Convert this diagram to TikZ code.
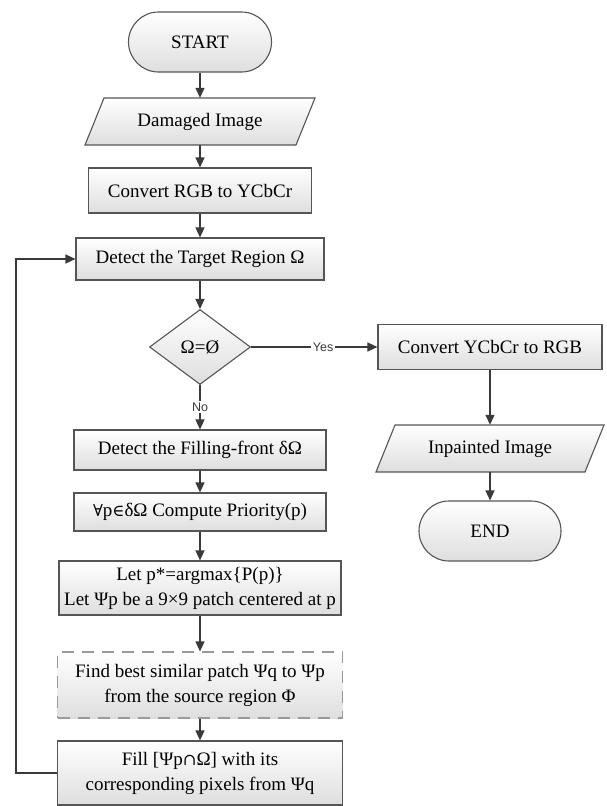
\documentclass[tikz,border=0pt]{standalone}
\usepackage{fontspec}
\setmainfont{Liberation Serif}
\setsansfont{Liberation Sans}
\newfontfamily\symfont{DejaVu Serif}[Scale=0.86]
\usetikzlibrary{arrows.meta,shapes.geometric}
\definecolor{lc}{HTML}{3A3A3A}
\definecolor{bd}{HTML}{555555}
\definecolor{boxg}{HTML}{DEDEDE}
\newcommand\mainfs{\fontsize{19}{25}\selectfont}
\begin{document}
\begin{tikzpicture}[x=1pt,y=-1pt,
  base/.style={draw=bd, line width=1.1pt, top color=white, bottom color=boxg, inner sep=0pt, align=center, font=\mainfs},
  box/.style={base, rectangle},
  dbox/.style={base, rectangle, dash pattern=on 12pt off 8pt, draw=gray!80},
  term/.style={base, rectangle, rounded corners=30pt, minimum width=143pt, minimum height=60pt},
  iotext/.style={inner sep=0pt, font=\mainfs, rectangle},
  ioshape/.style={draw=bd, line width=1.1pt, top color=white, bottom color=boxg},
  dia/.style={base, diamond, minimum width=101pt, minimum height=75pt},
  arr/.style={draw=lc, line width=1.1pt, -{Triangle[width=9pt,length=10pt]}},
  lbl/.style={fill=white, inner sep=1.5pt, font=\sffamily\fontsize{12.5}{13}\selectfont, text=lc}
]
\useasboundingbox (0,0) rectangle (607,806);

% left column
\node[term] (start) at (200,42) {START};

\shade[ioshape] (85,145) -- (296,145) -- (315,98) -- (104,98) -- cycle;
\node[iotext, minimum width=211pt, minimum height=47pt] (dmg) at (200,121.5) {Damaged Image};

\node[box, minimum width=223pt, minimum height=45pt] (rgb) at (200,190.5) {Convert RGB to YCbCr};
\node[box, minimum width=248pt, minimum height=42pt] (tgt) at (200,259) {Detect the Target Region Ω};
\node[dia] (dec) at (200,347) {Ω=Ø};
\node[box, minimum width=252pt, minimum height=40pt] (front) at (200,450) {Detect the Filling-front δΩ};
\node[box, minimum width=252pt, minimum height=38pt] (prio) at (200,512) {{\symfont ∀}p{\symfont ∈}δΩ Compute Priority(p)};
\node[box, minimum width=282pt, minimum height=54pt] (let) at (200,588) {Let p*=argmax\{P(p)\}\\Let Ψp be a 9×9 patch centered at p};
\node[dbox, minimum width=285pt, minimum height=66pt] (find) at (200,685) {Find best similar patch Ψq to Ψp\\from the source region Φ};
\node[box, minimum width=285pt, minimum height=64pt] (fill) at (200,773) {Fill [Ψp{\symfont ∩}Ω] with its\\corresponding pixels from Ψq};

% right column
\node[box, minimum width=224pt, minimum height=45pt] (ycc) at (490,347) {Convert YCbCr to RGB};
\shade[ioshape] (376,472) -- (585,472) -- (604,425) -- (395,425) -- cycle;
\node[iotext, minimum width=209pt, minimum height=47pt] (inp) at (490,448.5) {Inpainted Image};
\node[term, minimum width=142pt] (end) at (490,531) {END};

\coordinate (loop) at (16,773);

% connectors
\draw[arr] (start) -- (dmg);
\draw[arr] (dmg) -- (rgb);
\draw[arr] (rgb) -- (tgt);
\draw[arr] (tgt) -- (dec);
\draw[arr] (dec) -- node[lbl, pos=0.5] {No} (front);
\draw[arr] (dec) -- node[lbl, pos=0.57] {Yes} (ycc);
\draw[arr] (ycc) -- (inp);
\draw[arr] (inp) -- (end);
\draw[arr] (front) -- (prio);
\draw[arr] (prio) -- (let);
\draw[arr] (let) -- (find);
\draw[arr] (find) -- (fill);
\draw[arr] (fill.west) -- (loop) |- (tgt.west);
\end{tikzpicture}
\end{document}
